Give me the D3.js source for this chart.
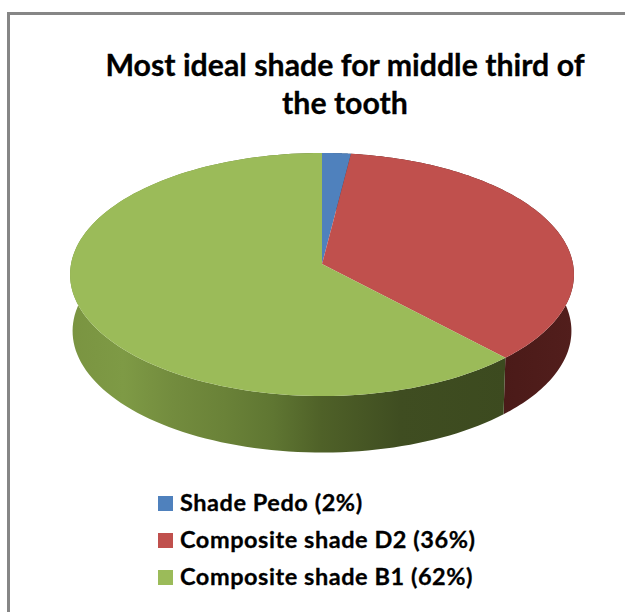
<!DOCTYPE html>
<html><head><meta charset="utf-8">
<script src="https://cdn.jsdelivr.net/npm/d3@7/dist/d3.min.js"></script>
<style>html,body{margin:0;padding:0;background:#fff}svg{display:block}text{font-family:Lato,"Noto Sans",sans-serif;font-weight:700;fill:#000;stroke:#000;stroke-width:0.3px}</style>
</head><body><div id="c"></div>
<script>
const titleLines = ["Most ideal shade for middle third of", "the tooth"];
const categories = ["Shade Pedo", "Composite shade D2", "Composite shade B1"];
const values = [2, 36, 62];
const topColors = ["#4f81bd", "#c0504d", "#9bbb59"];

const W = 625, H = 612;
const svg = d3.select("#c").append("svg").attr("width", W).attr("height", H);
const defs = svg.append("defs");

// Horizontal shading of the side wall of the disc
const wallStops = {
  "Composite shade B1": [[0,"#7a9441"],[0.12,"#7e9a45"],[0.23,"#738c3e"],[0.35,"#6a8238"],[0.46,"#5f7632"],[0.57,"#4f6128"],[0.75,"#3f4d21"],[1,"#3c4a1f"]],
  "Composite shade D2": [[0,"#4a1a18"],[1,"#521e1c"]],
  "Shade Pedo": [[0,"#2a4566"],[1,"#2a4566"]]
};

// Tilted disc with perspective
const cx = 322, cy = 264, persp = 0.0864, rX = 251, rY = 120.6, depth = 56.5;
const x = d3.scaleLinear().domain([-1, 1]).range([cx - rX, cx + rX]);
const y = d3.scaleLinear().domain([-1, 1]).range([cy + rY, cy - rY]);
const proj = (a, d = 0) => {
  const u = Math.sin(a), v = Math.cos(a), s = 1 / (1 + persp * v);
  const k = 1 - 0.01 * d / depth;
  return [x(u * s * k), y(v * s) + d];
};
const slices = d3.pie().sort(null).value(d => d.value)(
  categories.map((name, i) => ({ name, value: values[i], color: topColors[i] })));
const arcAngles = s => d3.range(0, 121).map(i => s.startAngle + (s.endAngle - s.startAngle) * i / 120);
const line = d3.line();

// Frame: top and left rule only
svg.append("rect").attr("x", 7).attr("y", 12).attr("width", W - 7).attr("height", 3).attr("fill", "#868686");
svg.append("rect").attr("x", 7).attr("y", 12).attr("width", 3).attr("height", H - 12).attr("fill", "#868686");

// Title
svg.append("g").selectAll("text").data(titleLines).join("text")
  .attr("x", 345).attr("y", (d, i) => 76 + i * 38)
  .attr("text-anchor", "middle").attr("font-size", 30.3).text(d => d);

// Side walls
slices.forEach((s, i) => {
  const id = "wall" + i;
  const g = defs.append("linearGradient").attr("id", id).attr("gradientUnits", "userSpaceOnUse")
    .attr("x1", cx - rX).attr("x2", cx + rX).attr("y1", 0).attr("y2", 0);
  const st = wallStops[s.data.name];
  if (s.data.name === "Composite shade D2") { g.attr("x1", cx + rX * 0.7).attr("x2", cx + rX); }
  if (s.data.name === "Composite shade B1") { g.attr("x1", cx - rX).attr("x2", cx + rX * 0.75); }
  st.forEach(([o, c]) => g.append("stop").attr("offset", o).attr("stop-color", c));
  const a = arcAngles(s);
  const pts = a.map(t => proj(t)).concat(a.slice().reverse().map(t => proj(t, depth)));
  svg.append("path").attr("d", line(pts) + "Z").attr("fill", `url(#${id})`);
});

// Top faces
slices.forEach(s => {
  const pts = [[x(0), y(0)]].concat(arcAngles(s).map(t => proj(t)));
  svg.append("path").attr("d", line(pts) + "Z").attr("fill", s.data.color);
});

// Legend
const leg = svg.append("g").selectAll("g").data(slices).join("g")
  .attr("transform", (d, i) => `translate(158,${496 + i * 37})`);
leg.append("rect").attr("width", 15).attr("height", 15).attr("fill", d => d.data.color);
leg.append("text").attr("x", 22).attr("y", 15).attr("font-size", 23.5).attr("letter-spacing", 0.55)
  .text(d => `${d.data.name} (${d.data.value}%)`);
</script></body></html>
